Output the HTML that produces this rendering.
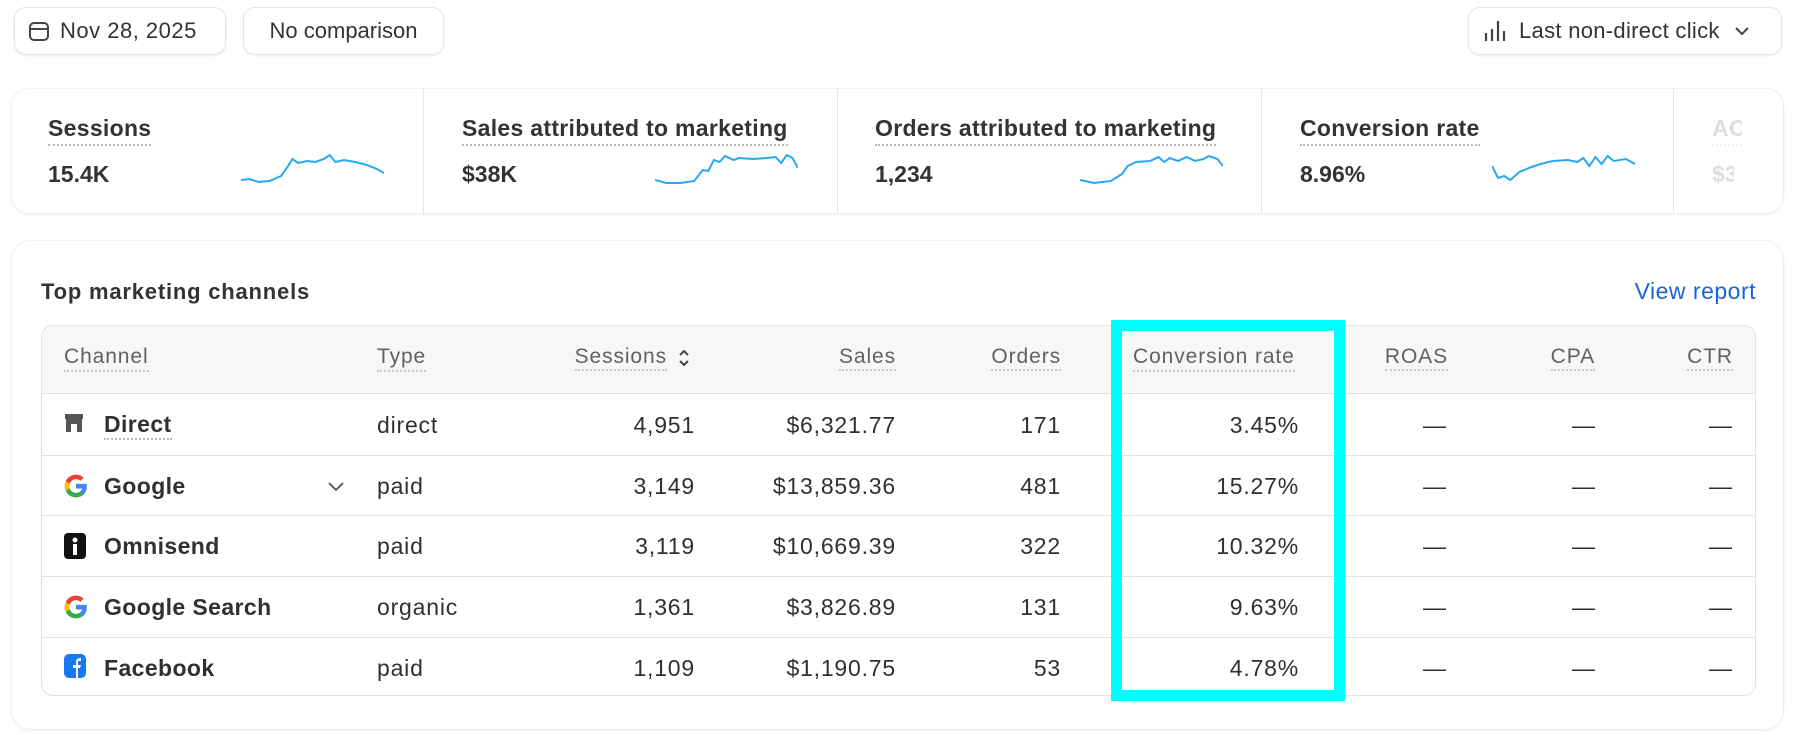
<!DOCTYPE html>
<html><head><meta charset="utf-8"><style>
*{margin:0;padding:0;box-sizing:border-box}
body{width:1796px;height:735px;background:#fff;font-family:"Liberation Sans",sans-serif;color:#303030;position:relative;overflow:hidden}
.a{position:absolute;white-space:nowrap}
.btn{position:absolute;border:1px solid #e6e6e6;border-radius:12px;background:#fff;box-shadow:0 1px 2px rgba(0,0,0,.08);font-size:22px;display:flex;align-items:center}
.card{position:absolute;border:1px solid #efefef;border-radius:16px;background:#fff;box-shadow:0 1px 3px rgba(0,0,0,.05)}
.lbl{font-size:23px;font-weight:bold;color:#333;border-bottom:2px dotted #bbb;padding-bottom:2px;letter-spacing:0.3px}
.val{font-size:23px;font-weight:bold;color:#333}
.vd{position:absolute;top:88px;width:1px;height:126px;background:#e6e6e6}
.th{font-size:21px;color:#616161;border-bottom:2px dotted #c8c8c8;padding-bottom:1px;letter-spacing:0.9px}
.td{font-size:23px;color:#303030;letter-spacing:0.8px}
.r{text-align:right}
.hl{position:absolute;left:41px;width:1715px;height:1px;background:#e3e3e3}
</style></head><body>
<div class="btn" style="left:14px;top:7px;width:212px;height:48px;padding-left:13px">
<svg width="22" height="22" viewBox="0 0 22 22"><rect x="2" y="3" width="18" height="17" rx="4" fill="none" stroke="#444" stroke-width="2"/><line x1="2" y1="9" x2="20" y2="9" stroke="#444" stroke-width="2"/></svg>
<span style="margin-left:10px;color:#333;letter-spacing:0.5px">Nov 28, 2025</span></div>
<div class="btn" style="left:243px;top:7px;width:201px;height:48px;justify-content:center;color:#333">No comparison</div>
<div class="btn" style="left:1468px;top:7px;width:314px;height:48px;padding-left:14px">
<svg width="26" height="24" viewBox="0 0 26 24"><g stroke="#444" stroke-width="2.2"><line x1="3" y1="14" x2="3" y2="22"/><line x1="9" y1="10" x2="9" y2="22"/><line x1="15" y1="2" x2="15" y2="22"/><line x1="21" y1="12" x2="21" y2="22"/></g></svg>
<span style="margin-left:10px;color:#333;letter-spacing:0.3px">Last non-direct click</span>
<svg style="margin-left:14px" width="16" height="12" viewBox="0 0 16 12"><path d="M2 3l6 6 6-6" fill="none" stroke="#444" stroke-width="2"/></svg></div>

<div class="card" style="left:11px;top:88px;width:1773px;height:126px;border-radius:18px"></div>
<div class="vd" style="left:423px"></div><div class="vd" style="left:837px"></div><div class="vd" style="left:1261px"></div><div class="vd" style="left:1673px"></div>
<div class="a lbl" style="left:48px;top:115px">Sessions</div><div class="a val" style="left:48px;top:161px">15.4K</div>
<div class="a lbl" style="left:462px;top:115px">Sales attributed to marketing</div><div class="a val" style="left:462px;top:161px">$38K</div>
<div class="a lbl" style="left:875px;top:115px">Orders attributed to marketing</div><div class="a val" style="left:875px;top:161px">1,234</div>
<div class="a lbl" style="left:1300px;top:115px">Conversion rate</div><div class="a val" style="left:1300px;top:161px">8.96%</div>
<div class="a lbl" style="left:1712px;top:115px;color:#ddd;border-color:#eee;width:30px;overflow:hidden">AOV</div><div class="a val" style="left:1712px;top:161px;color:#ddd;width:22px;overflow:hidden">$3</div>
<svg class="a" style="left:241px;top:154px" width="143" height="32" viewBox="0 0 100 32" preserveAspectRatio="none" fill="none" stroke="#29a8f0" stroke-width="2"><polyline vector-effect="non-scaling-stroke" points="0,26 6,25 12,28 20,27 28,22 32,14 36,5 40,9 46,7 52,8 58,5 62,1 66,8 72,6 80,8 88,11 95,15 100,19"/></svg>
<svg class="a" style="left:655px;top:154px" width="143" height="32" viewBox="0 0 102 32" preserveAspectRatio="none" fill="none" stroke="#29a8f0" stroke-width="2"><polyline vector-effect="non-scaling-stroke" points="0,26 8,29 18,29 28,27 34,16 38,17 42,6 46,8 50,2 56,6 60,4 70,5 80,4 86,3 90,9 94,1 98,4 102,14"/></svg>
<svg class="a" style="left:1080px;top:154px" width="143" height="32" viewBox="0 0 102 32" preserveAspectRatio="none" fill="none" stroke="#29a8f0" stroke-width="2"><polyline vector-effect="non-scaling-stroke" points="0,26 10,29 22,27 30,20 34,12 40,8 50,7 56,3 60,8 64,4 70,7 76,3 82,7 88,5 92,2 98,5 102,12"/></svg>
<svg class="a" style="left:1492px;top:154px" width="143" height="32" viewBox="0 0 94 32" preserveAspectRatio="none" fill="none" stroke="#29a8f0" stroke-width="2"><polyline vector-effect="non-scaling-stroke" points="0,12 4,24 8,22 12,26 18,18 26,13 32,10 40,7 50,6 56,8 60,4 64,12 68,3 72,10 76,2 80,7 88,5 94,10"/></svg>

<div class="card" style="left:11px;top:240px;width:1773px;height:490px;border-radius:20px"></div>
<div class="a" style="left:41px;top:279px;font-size:22px;font-weight:bold;color:#333;letter-spacing:0.8px">Top marketing channels</div>
<div class="a" style="left:1606px;top:278px;font-size:23px;color:#1a63d8;width:150px;text-align:right;letter-spacing:0.5px">View report</div>

<div class="a" style="left:41px;top:325px;width:1715px;height:371px;border:1px solid #e3e3e3;border-radius:12px;overflow:hidden">
<div style="height:68px;background:#f7f7f7;border-bottom:1px solid #e3e3e3"></div></div>
<div class="hl" style="top:455px"></div><div class="hl" style="top:515px"></div><div class="hl" style="top:576px"></div><div class="hl" style="top:637px"></div>

<div class="a th" style="left:64px;top:345px">Channel</div>
<div class="a th" style="left:377px;top:345px">Type</div>
<div class="a" style="left:507px;width:160px;top:345px;text-align:right"><span class="th">Sessions</span></div>
<svg class="a" style="left:677px;top:347px" width="14" height="22" viewBox="0 0 14 22" fill="none" stroke="#444" stroke-width="2"><path d="M3 8l4-4 4 4"/><path d="M3 14l4 4 4-4"/></svg>
<div class="a" style="left:736px;width:160px;top:345px;text-align:right"><span class="th">Sales</span></div>
<div class="a" style="left:901px;width:160px;top:345px;text-align:right"><span class="th">Orders</span></div>
<div class="a th" style="left:1133px;top:345px">Conversion rate</div>
<div class="a" style="left:1288px;width:160px;top:345px;text-align:right"><span class="th">ROAS</span></div>
<div class="a" style="left:1435px;width:160px;top:345px;text-align:right"><span class="th">CPA</span></div>
<div class="a" style="left:1573px;width:160px;top:345px;text-align:right"><span class="th">CTR</span></div>

<svg class="a" style="left:64px;top:413px" width="20" height="20" viewBox="0 0 20 20"><rect x="1" y="1" width="18" height="5" fill="#555"/><path d="M2 6h16v13h-5v-8h-6v8H2z" fill="#555"/></svg>
<svg class="a" style="left:63px;top:473px" width="26" height="26" viewBox="0 0 48 48"><path fill="#4285F4" d="M44 24.5c0-1.5-.1-3-.4-4.5H24v8.5h11.2c-.5 2.6-2 4.8-4.2 6.2v5.2h6.8c4-3.7 6.2-9.1 6.2-15.4z"/><path fill="#34A853" d="M24 45c5.7 0 10.4-1.9 13.9-5.1l-6.8-5.2c-1.9 1.3-4.3 2-7.1 2-5.5 0-10.1-3.7-11.8-8.7H5.2v5.4C8.6 40.3 15.8 45 24 45z"/><path fill="#FBBC05" d="M12.2 28c-.4-1.3-.7-2.6-.7-4s.3-2.7.7-4v-5.4H5.2C3.8 17.4 3 20.6 3 24s.8 6.6 2.2 9.4z"/><path fill="#EA4335" d="M24 11.3c3.1 0 5.9 1.1 8.1 3.2l6-6C34.4 5 29.7 3 24 3 15.8 3 8.6 7.7 5.2 14.6l7 5.4c1.7-5 6.3-8.7 11.8-8.7z"/></svg>
<svg class="a" style="left:64px;top:533px" width="22" height="26" viewBox="0 0 22 26"><rect width="22" height="26" rx="4" fill="#111"/><circle cx="11" cy="7" r="2.5" fill="#fff"/><rect x="9" y="11" width="4" height="11" fill="#fff"/></svg>
<svg class="a" style="left:63px;top:594px" width="26" height="26" viewBox="0 0 48 48"><path fill="#4285F4" d="M44 24.5c0-1.5-.1-3-.4-4.5H24v8.5h11.2c-.5 2.6-2 4.8-4.2 6.2v5.2h6.8c4-3.7 6.2-9.1 6.2-15.4z"/><path fill="#34A853" d="M24 45c5.7 0 10.4-1.9 13.9-5.1l-6.8-5.2c-1.9 1.3-4.3 2-7.1 2-5.5 0-10.1-3.7-11.8-8.7H5.2v5.4C8.6 40.3 15.8 45 24 45z"/><path fill="#FBBC05" d="M12.2 28c-.4-1.3-.7-2.6-.7-4s.3-2.7.7-4v-5.4H5.2C3.8 17.4 3 20.6 3 24s.8 6.6 2.2 9.4z"/><path fill="#EA4335" d="M24 11.3c3.1 0 5.9 1.1 8.1 3.2l6-6C34.4 5 29.7 3 24 3 15.8 3 8.6 7.7 5.2 14.6l7 5.4c1.7-5 6.3-8.7 11.8-8.7z"/></svg>
<svg class="a" style="left:64px;top:654px" width="22" height="24" viewBox="0 0 22 24"><rect width="22" height="24" rx="5" fill="#1877f2"/><path d="M12 24V14h-3v-3h3V8c0-3 2-4 5-4v3h-2c-1 0-1 1-1 2v2h3l-1 3h-2v10z" fill="#fff"/></svg>

<div class="a td" style="left:104px;top:411px;font-weight:bold;border-bottom:2px dotted #bbb;letter-spacing:0.4px">Direct</div>
<div class="a td" style="left:104px;top:473px;font-weight:bold;letter-spacing:0.4px">Google</div>
<svg class="a" style="left:327px;top:481px" width="18" height="12" viewBox="0 0 18 12" fill="none" stroke="#555" stroke-width="1.8"><path d="M2 2l7 7 7-7"/></svg>
<div class="a td" style="left:104px;top:533px;font-weight:bold;letter-spacing:0.4px">Omnisend</div>
<div class="a td" style="left:104px;top:594px;font-weight:bold;letter-spacing:0.4px">Google Search</div>
<div class="a td" style="left:104px;top:655px;font-weight:bold;letter-spacing:0.4px">Facebook</div>

<div class="a td" style="left:377px;top:412px">direct</div>
<div class="a td" style="left:377px;top:473px">paid</div>
<div class="a td" style="left:377px;top:533px">paid</div>
<div class="a td" style="left:377px;top:594px">organic</div>
<div class="a td" style="left:377px;top:655px">paid</div>

<div class="a td r" style="left:555px;width:140px;top:412px">4,951</div>
<div class="a td r" style="left:555px;width:140px;top:473px">3,149</div>
<div class="a td r" style="left:555px;width:140px;top:533px">3,119</div>
<div class="a td r" style="left:555px;width:140px;top:594px">1,361</div>
<div class="a td r" style="left:555px;width:140px;top:655px">1,109</div>

<div class="a td r" style="left:716px;width:180px;top:412px">$6,321.77</div>
<div class="a td r" style="left:716px;width:180px;top:473px">$13,859.36</div>
<div class="a td r" style="left:716px;width:180px;top:533px">$10,669.39</div>
<div class="a td r" style="left:716px;width:180px;top:594px">$3,826.89</div>
<div class="a td r" style="left:716px;width:180px;top:655px">$1,190.75</div>

<div class="a td r" style="left:961px;width:100px;top:412px">171</div>
<div class="a td r" style="left:961px;width:100px;top:473px">481</div>
<div class="a td r" style="left:961px;width:100px;top:533px">322</div>
<div class="a td r" style="left:961px;width:100px;top:594px">131</div>
<div class="a td r" style="left:961px;width:100px;top:655px">53</div>

<div class="a td r" style="left:1149px;width:150px;top:412px">3.45%</div>
<div class="a td r" style="left:1149px;width:150px;top:473px">15.27%</div>
<div class="a td r" style="left:1149px;width:150px;top:533px">10.32%</div>
<div class="a td r" style="left:1149px;width:150px;top:594px">9.63%</div>
<div class="a td r" style="left:1149px;width:150px;top:655px">4.78%</div>

<div class="a td" style="left:1423px;top:412px;line-height:26px">—<br><span style="display:block;height:35px"></span>—<br><span style="display:block;height:34px"></span>—<br><span style="display:block;height:35px"></span>—<br><span style="display:block;height:35px"></span>—</div>
<div class="a td" style="left:1572px;top:412px;line-height:26px">—<br><span style="display:block;height:35px"></span>—<br><span style="display:block;height:34px"></span>—<br><span style="display:block;height:35px"></span>—<br><span style="display:block;height:35px"></span>—</div>
<div class="a td" style="left:1709px;top:412px;line-height:26px">—<br><span style="display:block;height:35px"></span>—<br><span style="display:block;height:34px"></span>—<br><span style="display:block;height:35px"></span>—<br><span style="display:block;height:35px"></span>—</div>

<div class="a" style="left:1111px;top:320px;width:234px;height:381px;border:11px solid #00ffff"></div>
</body></html>
